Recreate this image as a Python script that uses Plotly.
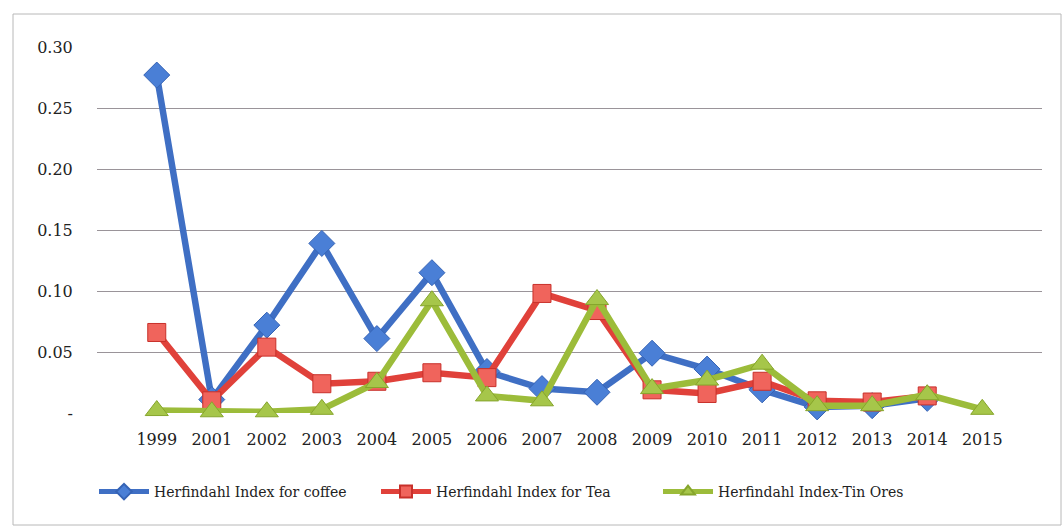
import plotly.graph_objects as go

years = ["1999", "2001", "2002", "2003", "2004", "2005", "2006", "2007",
         "2008", "2009", "2010", "2011", "2012", "2013", "2014", "2015"]
coffee = [0.277, 0.011, 0.072, 0.139, 0.061, 0.115, 0.034, 0.020,
          0.017, 0.049, 0.036, 0.019, 0.005, 0.006, 0.012, None]
tea = [0.066, 0.010, 0.054, 0.024, 0.026, 0.033, 0.029, 0.098,
       0.084, 0.019, 0.016, 0.026, 0.010, 0.009, 0.014, None]
tin = [0.002, 0.001, 0.001, 0.003, 0.025, 0.092, 0.014, 0.010,
       0.093, 0.020, 0.027, 0.040, 0.006, 0.006, 0.015, 0.003]

ytick_vals = [0, 0.05, 0.10, 0.15, 0.20, 0.25, 0.30]
ytick_text = ["-", "0.05", "0.10", "0.15", "0.20", "0.25", "0.30"]

FONT = "DejaVu Serif"
FS = 16

fig = go.Figure()
fig.add_trace(go.Scatter(
    x=years, y=coffee, name="Herfindahl Index for coffee", mode="lines+markers",
    line=dict(color="#3f6fc4", width=6.5),
    marker=dict(symbol="diamond", size=20, color="#4a7fd6",
                line=dict(color="#3563b5", width=1)),
    cliponaxis=False))
fig.add_trace(go.Scatter(
    x=years, y=tea, name="Herfindahl Index for Tea", mode="lines+markers",
    line=dict(color="#e0413a", width=6.5),
    marker=dict(symbol="square", size=18, color="#f0645c",
                line=dict(color="#c8302a", width=1)),
    cliponaxis=False))
fig.add_trace(go.Scatter(
    x=years, y=tin, name="Herfindahl Index-Tin Ores", mode="lines+markers",
    line=dict(color="#9cbc3a", width=6.5),
    marker=dict(symbol="triangle-up", size=20, color="#a6c64a",
                line=dict(color="#86a52c", width=1)),
    cliponaxis=False))

W, H = 1063, 527
L, R, T, B = 97, 21, 47, 114
pw, ph = W - L - R, H - T - B

def px(x):
    return (x - L) / pw

def py(y):
    return (H - B - y) / ph

fig.add_shape(type="rect", xref="paper", yref="paper",
              x0=px(13), x1=px(1061), y0=py(525), y1=py(14),
              line=dict(color="#b8b8b8", width=1), layer="below")

fig.update_layout(
    width=W, height=H,
    margin=dict(l=L, r=R, t=T, b=B),
    paper_bgcolor="white", plot_bgcolor="white",
    font=dict(family=FONT, size=FS, color="#222222"),
    showlegend=True,
    legend=dict(orientation="h", x=px(94), xanchor="left", y=py(492), yanchor="middle",
                font=dict(family=FONT, size=14, color="#222222"),
                itemwidth=50, itemsizing="constant", entrywidth=217, entrywidthmode="pixels",
                tracegroupgap=0, traceorder="normal"),
    xaxis=dict(type="category", showgrid=False, showline=False, zeroline=False,
               ticks="outside", ticklen=12, tickcolor="rgba(0,0,0,0)",
               tickfont=dict(family=FONT, size=FS, color="#222222")),
    yaxis=dict(range=[0, 0.30], tickvals=ytick_vals, ticktext=ytick_text,
               showgrid=True, gridcolor="#9a9499", gridwidth=1,
               zeroline=False, showline=False,
               ticks="outside", ticklen=20, tickcolor="rgba(0,0,0,0)",
               tickfont=dict(family=FONT, size=FS, color="#222222")),
)

fig.write_html("out.html")
